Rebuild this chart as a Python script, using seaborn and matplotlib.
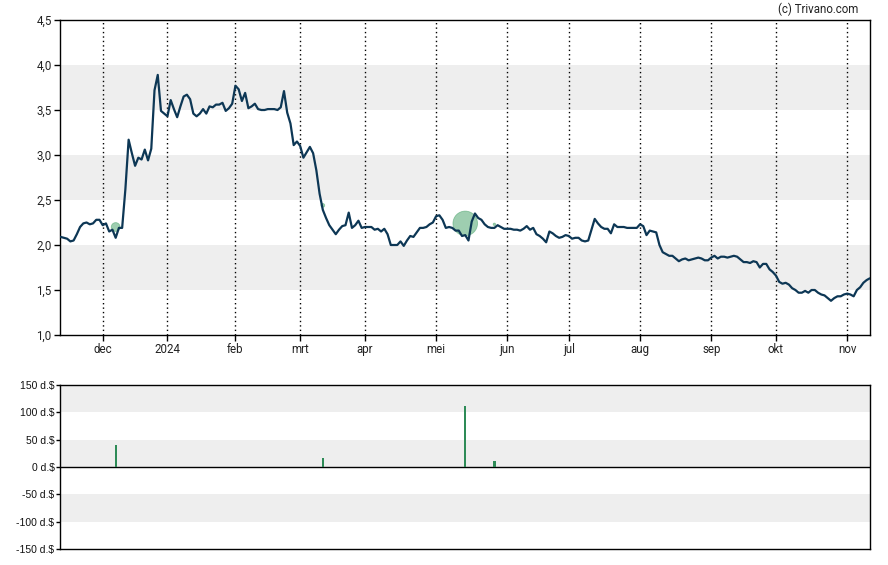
import numpy as np
import pandas as pd
import matplotlib
matplotlib.use("Agg")
import matplotlib.pyplot as plt
import seaborn as sns

# ---------------- data ----------------
# exchange calendar (days without a quote in the series)
HOLIDAYS = ["2023-11-23", "2023-12-25", "2024-01-01", "2024-01-15", "2024-02-19",
            "2024-03-29", "2024-05-27", "2024-06-19", "2024-07-04", "2024-09-02",
            "2024-10-14"]
START, END = "2023-11-13", "2024-11-12"

close = [
    # nov 2023
    2.09, 2.08, 2.07, 2.04, 2.05, 2.12, 2.20, 2.24, 2.25, 2.23, 2.24, 2.28, 2.28,
    # dec
    2.22, 2.24, 2.15, 2.17, 2.08, 2.19, 2.19, 2.62, 3.17, 3.02, 2.88, 2.97, 2.95,
    3.06, 2.94, 3.07, 3.72, 3.89, 3.49, 3.46,
    # jan 2024
    3.43, 3.61, 3.51, 3.42, 3.54, 3.65, 3.67, 3.62, 3.46, 3.43, 3.46, 3.51, 3.46,
    3.54, 3.53, 3.56, 3.56, 3.58, 3.49, 3.52, 3.57,
    # feb
    3.77, 3.73, 3.60, 3.69, 3.52, 3.54, 3.57, 3.51, 3.50, 3.50, 3.51, 3.51, 3.51,
    3.50, 3.53, 3.71, 3.47, 3.35, 3.11, 3.15,
    # mrt
    3.10, 2.97, 3.03, 3.09, 3.02, 2.83, 2.57, 2.39, 2.30, 2.22, 2.17, 2.12, 2.17,
    2.21, 2.22, 2.36, 2.19, 2.22, 2.27, 2.19,
    # apr
    2.20, 2.20, 2.20, 2.17, 2.18, 2.15, 2.18, 2.12, 2.00, 2.00, 2.00, 2.04, 1.99,
    2.05, 2.10, 2.09, 2.14, 2.19, 2.19, 2.20, 2.23, 2.25,
    # mei
    2.32, 2.33, 2.28, 2.19, 2.20, 2.19, 2.16, 2.16, 2.10, 2.11, 2.05, 2.26, 2.35,
    2.30, 2.28, 2.23, 2.20, 2.19, 2.19, 2.22, 2.20, 2.18,
    # jun
    2.18, 2.18, 2.17, 2.17, 2.16, 2.18, 2.21, 2.17, 2.19, 2.12, 2.10, 2.07, 2.03,
    2.15, 2.13, 2.10, 2.08, 2.09, 2.11,
    # jul
    2.10, 2.07, 2.08, 2.08, 2.05, 2.04, 2.05, 2.17, 2.29, 2.24, 2.20, 2.18, 2.18,
    2.13, 2.23, 2.20, 2.20, 2.20, 2.19, 2.19, 2.19, 2.19,
    # aug
    2.23, 2.21, 2.11, 2.16, 2.15, 2.14, 2.00, 1.92, 1.90, 1.88, 1.88, 1.85, 1.82,
    1.84, 1.85, 1.83, 1.84, 1.85, 1.86, 1.85, 1.83, 1.83,
    # sep
    1.86, 1.88, 1.85, 1.87, 1.87, 1.86, 1.87, 1.88, 1.87, 1.84, 1.81, 1.81, 1.80,
    1.82, 1.81, 1.75, 1.79, 1.79, 1.73, 1.70,
    # okt
    1.66, 1.59, 1.57, 1.58, 1.56, 1.52, 1.50, 1.47, 1.47, 1.49, 1.47, 1.50, 1.50,
    1.47, 1.45, 1.44, 1.41, 1.38, 1.41, 1.43, 1.43, 1.45,
    # nov
    1.46, 1.45, 1.43, 1.50, 1.53, 1.58, 1.61, 1.63,
]

div_dates = ["2023-12-07", "2024-03-12", "2024-05-14", "2024-05-28"]
div_amounts = [40, 17, 112, 11]          # d.$
div_marker_price = [2.20, 2.44, 2.24, 2.23]

month_labels = ["dec", "2024", "feb", "mrt", "apr", "mei", "jun", "jul",
                "aug", "sep", "okt", "nov"]
price_ticks = [1.0, 1.5, 2.0, 2.5, 3.0, 3.5, 4.0, 4.5]
price_bands = [(1.5, 2.0), (2.5, 3.0), (3.5, 4.0)]
div_ticks = [-150, -100, -50, 0, 50, 100, 150]
div_bands = [(100, 150), (0, 50), (-100, -50)]

# ---------------- prep ----------------
sessions = pd.bdate_range(START, END, freq="C", holidays=HOLIDAYS)
n = min(len(sessions), len(close))
df = pd.DataFrame({"date": sessions[:n], "close": close[:n]})
df["session"] = np.arange(n)

div = pd.DataFrame({"date": pd.to_datetime(div_dates), "amount": div_amounts,
                    "price": div_marker_price})
div["session"] = sessions.get_indexer(div["date"])

per = df["date"].dt.to_period("M")
first_idx = df.groupby(per)["session"].min()
first_idx = first_idx[first_idx.index >= pd.Period("2023-12", "M")]
month_pos = list(first_idx.values[:len(month_labels)])

# ---------------- style ----------------
sns.set_theme(style="white")
plt.rcParams["font.family"] = ["Roboto", "DejaVu Sans"]

W, H = 888, 565
fig = plt.figure(figsize=(W / 100, H / 100), dpi=100)
ax = fig.add_axes([60 / W, 1 - 335 / H, 810 / W, 315 / H])
ax2 = fig.add_axes([60 / W, 1 - 549 / H, 810 / W, 164 / H])

LINE = "#0d3755"
BAND = "#eeeeee"
GREEN = "#2e8b57"

# top panel
for lo, hi in price_bands:
    ax.axhspan(lo, hi, color=BAND, zorder=0, lw=0)
for p in month_pos:
    ax.axvline(p, color="black", lw=1.0, ls=(0, (1, 2.2)), zorder=1)

areas = [(0.158 * a) ** 2 for a in div_amounts]
ax.scatter(div["session"], div["price"], s=areas, color="#3f9e62", alpha=0.5,
           edgecolor="#3f9e62", linewidth=0.6, zorder=2)
sns.lineplot(data=df, x="session", y="close", ax=ax, color=LINE, lw=1.6, zorder=3)

ax.set_xlim(-0.2, n - 1 + 0.05)
ax.set_ylim(1.0, 4.5)
ax.set_yticks(price_ticks)
ax.set_yticklabels([f"{v:.1f}".replace(".", ",") for v in price_ticks])
ax.set_xticks(month_pos)
ax.set_xticklabels(month_labels)
ax.set_xlabel("")
ax.set_ylabel("")
ax.tick_params(axis="both", which="major", length=4, width=1, color="black",
               labelsize=8.3, labelcolor="#222222", pad=2, direction="out",
               bottom=True, left=True)
for s in ax.spines.values():
    s.set_color("black")
    s.set_linewidth(1.0)
    s.set_visible(True)

# bottom panel
for lo, hi in div_bands:
    ax2.axhspan(lo, hi, color=BAND, zorder=0, lw=0)
ax2.axhline(0, color="black", lw=1.0, zorder=2)
ax2.bar(div["session"], div["amount"], width=0.7, color=GREEN, linewidth=0,
        edgecolor="none", zorder=3)
ax2.set_xlim(ax.get_xlim())
ax2.set_ylim(-150, 150)
ax2.set_yticks(div_ticks)
ax2.set_yticklabels([f"{v} d.$" for v in div_ticks], family=["Liberation Sans"],
                    fontsize=7.5)
ax2.set_xticks([])
ax2.tick_params(axis="y", length=3, width=1, color="black", labelcolor="#111111",
                pad=1, direction="out", left=True)
for s in ax2.spines.values():
    s.set_color("black")
    s.set_linewidth(1.0)
    s.set_visible(True)

fig.text(858 / W, 1 - 9 / H, "(c) Trivano.com", ha="right", va="center",
         fontsize=8.3, color="#222222")

fig.savefig("out.png", dpi=100)
